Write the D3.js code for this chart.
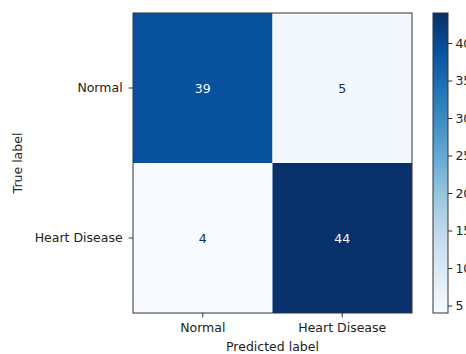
<!DOCTYPE html>
<html>
<head>
<meta charset="utf-8">
<script src="https://cdn.jsdelivr.net/npm/d3@7"></script>
<style>
  html, body { margin: 0; padding: 0; background: #fff; overflow: hidden; }
  svg { display: block; font-family: "DejaVu Sans", sans-serif; }
</style>
</head>
<body>
<svg id="chart" width="466" height="354"></svg>
<script>
// Confusion matrix: rows = true label, columns = predicted label
const classes = ["Normal", "Heart Disease"];
const trueLabels = ["Normal", "Heart Disease"];
const predictedLabels = ["Normal", "Heart Disease"];
const rowNormal = [39, 5];
const rowHeartDisease = [4, 44];
const colorbarTicks = [5, 10, 15, 20, 25, 30, 35, 40];

// Blues colour stops (ColorBrewer, linearly segmented)
const bluesStops = ["#f7fbff", "#deebf7", "#c6dbef", "#9ecae1", "#6baed6",
                    "#4292c6", "#2171b5", "#08519c", "#08306b"];

const FONT = 12.5;
const TICK = 4.4;
const PAD = 6;

const matrix = [rowNormal, rowHeartDisease];
const cells = [];
matrix.forEach((row, i) => row.forEach((v, j) => cells.push({ t: trueLabels[i], p: predictedLabels[j], v })));

const vmin = d3.min(cells, d => d.v);
const vmax = d3.max(cells, d => d.v);

const blues = d3.scaleLinear()
  .domain(bluesStops.map((_, i) => i / (bluesStops.length - 1)))
  .range(bluesStops)
  .interpolate(d3.interpolateRgb);
const norm = d3.scaleLinear().domain([vmin, vmax]).range([0, 1]);
const color = v => blues(norm(v));

const svg = d3.select("#chart");
const plot = { left: 133, right: 412, top: 13, bottom: 313 };

const x = d3.scaleBand().domain(classes).range([plot.left, plot.right]);
const y = d3.scaleBand().domain(classes).range([plot.top, plot.bottom]);

// Heatmap cells
svg.append("g").selectAll("rect").data(cells).join("rect")
  .attr("x", d => x(d.p))
  .attr("y", d => y(d.t))
  .attr("width", x.bandwidth())
  .attr("height", y.bandwidth())
  .attr("fill", d => color(d.v));

// Cell annotations: light text on dark cells, dark text on light cells
const thresh = (vmin + vmax) / 2;
svg.append("g").selectAll("text").data(cells).join("text")
  .attr("x", d => x(d.p) + x.bandwidth() / 2)
  .attr("y", d => y(d.t) + y.bandwidth() / 2)
  .attr("text-anchor", "middle")
  .attr("dominant-baseline", "central")
  .attr("font-size", FONT)
  .attr("fill", d => d.v > thresh ? bluesStops[0] : bluesStops[bluesStops.length - 1])
  .text(d => d.v);

// Frame
svg.append("rect")
  .attr("x", plot.left).attr("y", plot.top)
  .attr("width", plot.right - plot.left).attr("height", plot.bottom - plot.top)
  .attr("fill", "none").attr("stroke", "#333").attr("stroke-width", 1);

const styleAxis = g => {
  g.select(".domain").remove();
  g.selectAll(".tick line").attr("stroke", "#333").attr("stroke-width", 1);
  g.selectAll(".tick text").attr("fill", "#222").attr("font-size", FONT)
    .attr("font-family", "DejaVu Sans, sans-serif");
};

// X axis
svg.append("g")
  .attr("transform", `translate(0,${plot.bottom})`)
  .call(d3.axisBottom(x).tickSize(TICK).tickPadding(PAD))
  .call(styleAxis);

// Y axis
svg.append("g")
  .attr("transform", `translate(${plot.left},0)`)
  .call(d3.axisLeft(y).tickSize(TICK).tickPadding(PAD))
  .call(styleAxis);

// Axis titles
svg.append("text")
  .attr("x", (plot.left + plot.right) / 2).attr("y", 351)
  .attr("text-anchor", "middle").attr("font-size", FONT).attr("fill", "#222")
  .text("Predicted label");

svg.append("text")
  .attr("transform", `translate(22,${(plot.top + plot.bottom) / 2}) rotate(-90)`)
  .attr("text-anchor", "middle").attr("font-size", FONT).attr("fill", "#222")
  .text("True label");

// Colorbar
const cb = { left: 433, width: 15, top: 13, bottom: 313 };
const defs = svg.append("defs");
const grad = defs.append("linearGradient").attr("id", "cbgrad")
  .attr("x1", 0).attr("y1", 1).attr("x2", 0).attr("y2", 0);
grad.selectAll("stop").data(bluesStops).join("stop")
  .attr("offset", (_, i) => i / (bluesStops.length - 1))
  .attr("stop-color", d => d);

svg.append("rect")
  .attr("x", cb.left).attr("y", cb.top)
  .attr("width", cb.width).attr("height", cb.bottom - cb.top)
  .attr("fill", "url(#cbgrad)")
  .attr("stroke", "#333").attr("stroke-width", 1);

const cy = d3.scaleLinear().domain([vmin, vmax]).range([cb.bottom, cb.top]);
svg.append("g")
  .attr("transform", `translate(${cb.left + cb.width},0)`)
  .call(d3.axisRight(cy).tickValues(colorbarTicks).tickSize(TICK).tickPadding(3))
  .call(styleAxis);
</script>
</body>
</html>
